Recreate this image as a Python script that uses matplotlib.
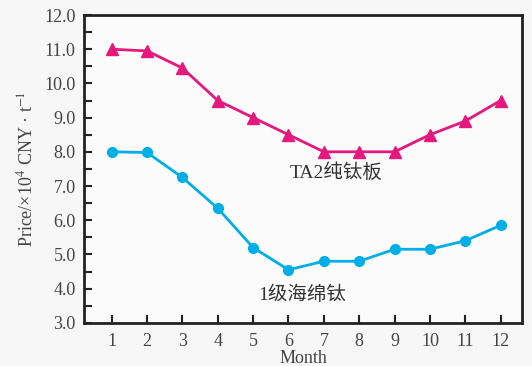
import matplotlib
matplotlib.use("Agg")
import matplotlib.pyplot as plt
from matplotlib.ticker import MultipleLocator, FormatStrFormatter

plt.rcParams['font.family'] = ['Liberation Serif', 'Noto Sans CJK SC']
plt.rcParams['mathtext.fontset'] = 'stix'

months = [1, 2, 3, 4, 5, 6, 7, 8, 9, 10, 11, 12]
ta2_plate = [11.0, 10.95, 10.45, 9.5, 9.0, 8.5, 8.0, 8.0, 8.0, 8.5, 8.9, 9.5]
sponge_ti = [8.0, 7.98, 7.25, 6.35, 5.2, 4.55, 4.8, 4.8, 5.15, 5.15, 5.4, 5.85]
series_names = ["TA2纯钛板", "1级海绵钛"]

fig = plt.figure(figsize=(5.32, 3.66), dpi=100, facecolor='#f7f7f7')
ax = fig.add_axes([0.158, 0.118, 0.823, 0.841])
ax.set_facecolor('#fbfbfb')

ax.plot(months, ta2_plate, color='#e6177d', lw=2, marker='^', ms=8, zorder=3)
ax.plot(months, sponge_ti, color='#00aee8', lw=2, marker='o', ms=7, zorder=3)

ax.text(7.36, 7.39, series_names[0], ha='center', va='center', fontsize=14, color='#333333')
ax.text(6.4, 3.81, series_names[1], ha='center', va='center', fontsize=14, color='#333333')

ax.set_xlim(0.22, 12.6)
ax.set_ylim(3.0, 12.0)
ax.set_xticks(months)
ax.yaxis.set_major_locator(MultipleLocator(1.0))
ax.yaxis.set_minor_locator(MultipleLocator(0.5))
ax.yaxis.set_major_formatter(FormatStrFormatter('%.1f'))

ax.tick_params(axis='both', which='both', direction='in', length=6, width=1.5,
               labelsize=13, colors='#222222', labelcolor='#444444', pad=6)
ax.tick_params(axis='x', pad=7)
ax.tick_params(top=False, right=False)
for s in ax.spines.values():
    s.set_linewidth(2)
    s.set_color('#222222')

ax.set_xlabel('Month', fontsize=13, color='#444444', labelpad=0)
ax.set_ylabel('Price/×10$^{4}$ CNY · t$^{-1}$', fontsize=13, color='#444444', labelpad=6)

fig.savefig('out.png', dpi=100, facecolor=fig.get_facecolor())
